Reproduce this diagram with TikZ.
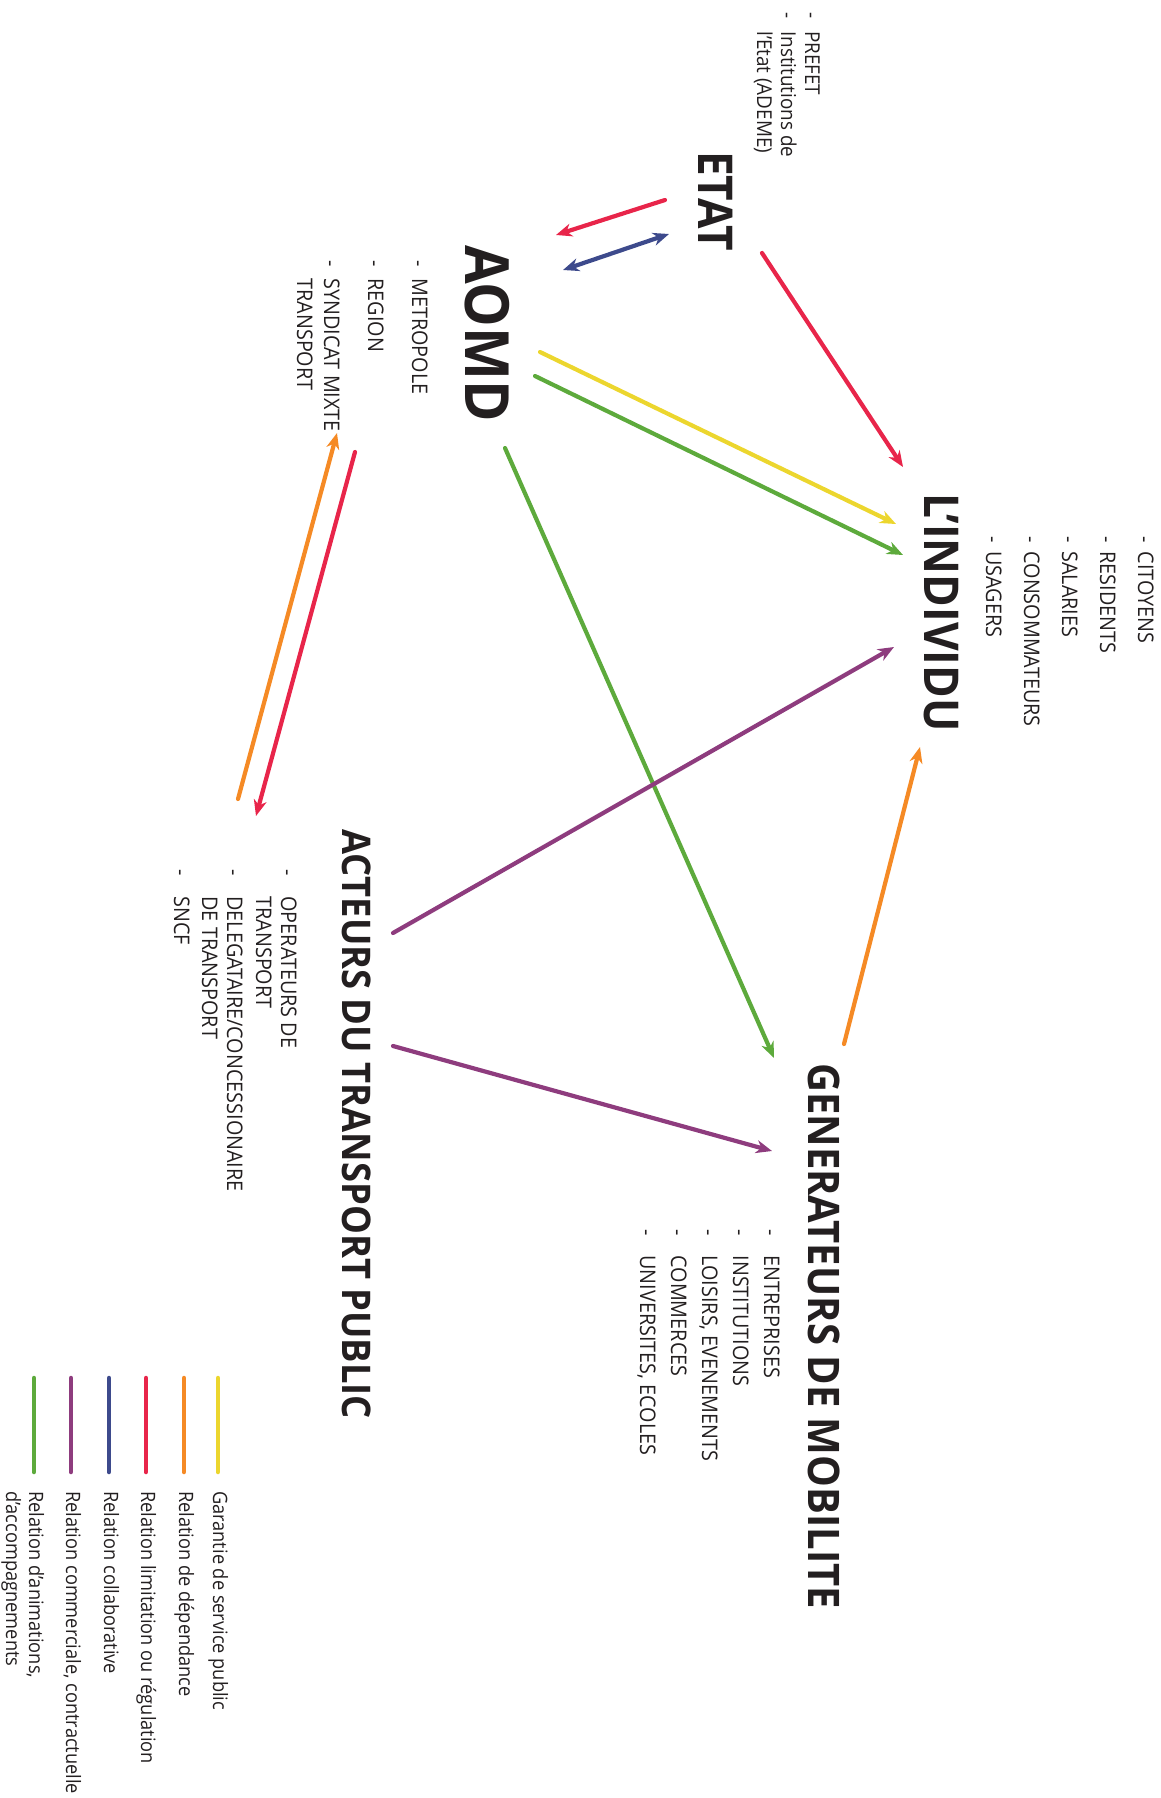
\documentclass[tikz,border=0pt]{standalone}
\usepackage{fontspec}
\setmainfont{Open Sans}[FakeStretch=0.92]
\usepackage{xcolor}
\usepackage{tikz}
\usetikzlibrary{arrows.meta,calc}
\definecolor{encre}{HTML}{231F20}
\definecolor{jauneG}{HTML}{ECD62E}
\definecolor{orangeD}{HTML}{F58A25}
\definecolor{rougeL}{HTML}{E8254A}
\definecolor{bleuC}{HTML}{3D4A8C}
\definecolor{violetC}{HTML}{8E3C7E}
\definecolor{vertA}{HTML}{5DAA3C}
\tikzset{
    >={Stealth[length=16pt,width=13pt,inset=5pt]},
    titre/.style={
        rotate=-90,
        anchor=base west,
        inner sep=0pt,
        text=encre
    },
    liste/.style={
        rotate=-90,
        anchor=base west,
        inner sep=0pt,
        text=encre
    },
    legende/.style={
        rotate=-90,
        anchor=base west,
        inner sep=0pt,
        text=encre,
        font={\fontsize{19.8}{23}\selectfont}
    },
    relation/.style={line width=4.2pt, line cap=round, ->},
    garantie/.style={relation, draw=jauneG},
    dependance/.style={relation, draw=orangeD},
    limitation/.style={relation, draw=rougeL},
    collaborative/.style={relation, draw=bleuC, <->},
    commerciale/.style={relation, draw=violetC},
    animation/.style={relation, draw=vertA},
    echantillon/.style={line width=4.5pt, line cap=round},
}
\begin{document}
\begin{tikzpicture}[x=1pt, y=-1pt]
\useasboundingbox (0,0) rectangle (1160,1798);

% les acteurs
\node[titre, font=\fontsize{48}{52}\selectfont\bfseries] (etat) at (698,151) {ETAT};
\node[liste, font=\fontsize{20.5}{24}\selectfont] (etat-liste) at (805,12)
    {\begin{tabular}[t]{@{}l@{\hspace{13pt}}l@{}}
    - & PREFET\\
    - & Institutions de\\
      & l’Etat (ADEME)
    \end{tabular}};

\node[titre, font=\fontsize{61}{66}\selectfont\bfseries] (aomd) at (465,245) {AOMD};
\node[liste, font=\fontsize{21.5}{27}\selectfont] (aomd-liste) at (412,260)
    {\begin{tabular}[t]{@{}l@{\hspace{12pt}}l@{}}
    - & METROPOLE\\[17pt]
    - & REGION\\[17pt]
    - & SYNDICAT MIXTE\\
      & TRANSPORT
    \end{tabular}};

\node[titre, font=\fontsize{48}{53}\selectfont\bfseries] (individu) at (924,493) {L’INDIVIDU};
\node[liste, font=\fontsize{21.5}{38}\selectfont] (individu-liste) at (1138,536)
    {\begin{tabular}[t]{@{}l@{\hspace{9pt}}l@{}}
    - & CITOYENS\\
    - & RESIDENTS\\
    - & SALARIES\\
    - & CONSOMMATEURS\\
    - & USAGERS
    \end{tabular}};

\node[titre, font=\fontsize{39.5}{44}\selectfont\bfseries] (acteurs) at (342,829) {ACTEURS DU TRANSPORT PUBLIC};
\node[liste, font=\fontsize{21.5}{25}\selectfont] (acteurs-liste) at (281,869)
    {\begin{tabular}[t]{@{}l@{\hspace{21pt}}l@{}}
    - & OPERATEURS DE\\
      & TRANSPORT\\[4pt]
    - & DELEGATAIRE/CONCESSIONAIRE\\
      & DE TRANSPORT\\[3pt]
    - & SNCF
    \end{tabular}};

\node[titre, font=\fontsize{43.5}{48}\selectfont\bfseries] (generateurs) at (808,1063) {GENERATEURS DE MOBILITE};
\node[liste, font=\fontsize{21.5}{31}\selectfont] (generateurs-liste) at (764,1229)
    {\begin{tabular}[t]{@{}l@{\hspace{20pt}}l@{}}
    - & ENTREPRISES\\
    - & INSTITUTIONS\\
    - & LOISIRS, EVENEMENTS\\
    - & COMMERCES\\
    - & UNIVERSITES, ECOLES
    \end{tabular}};

% les relations
\draw[limitation] ([shift={(-33,49)}]etat.base west) -- ([shift={(91,-10)}]aomd.base west);
\draw[collaborative] ([shift={(98,25)}]aomd.base west) -- ([shift={(-29,83)}]etat.base west);
\draw[limitation] ([shift={(64,102)}]etat.base west) -- ([shift={(-21,-26)}]individu.base west);
\draw[garantie] ([shift={(75,107)}]aomd.base west) -- ([shift={(-28,31)}]individu.base west);
\draw[animation] ([shift={(70,131)}]aomd.base west) -- ([shift={(-21,62)}]individu.base west);
\draw[animation] ([shift={(40,203)}]aomd.base west) -- ([shift={(-34,-5)}]generateurs.base west);
\draw[dependance] ([shift={(-104,-30)}]acteurs.base west) -- ([shift={(-75,173)}]aomd-liste.base west);
\draw[limitation] ([shift={(-57,192)}]aomd-liste.base west) -- ([shift={(-86,-13)}]acteurs.base west);
\draw[commerciale] ([shift={(51,104)}]acteurs.base west) -- ([shift={(-30,154)}]individu.base west);
\draw[commerciale] ([shift={(51,217)}]acteurs.base west) -- ([shift={(-36,88)}]generateurs.base west);
\draw[dependance] ([shift={(36,-19)}]generateurs.base west) -- ([shift={(-4,254)}]individu.base west);

% legende
\node[legende] (leg-garantie) at (213,1491) {Garantie de service public};
\node[legende] (leg-dependance) at (179,1491) {Relation de dépendance};
\node[legende] (leg-limitation) at (141,1491) {Relation limitation ou régulation};
\node[legende] (leg-collaborative) at (104,1491) {Relation collaborative};
\node[legende] (leg-commerciale) at (66,1491) {Relation commerciale, contractuelle};
\node[legende] (leg-animation) at (29,1491)
    {\begin{tabular}[t]{@{}l@{}}Relation d’animations,\\ d’accompagnements\end{tabular}};
\draw[echantillon, jauneG] ([shift={(5,-113)}]leg-garantie.base west) -- ++(0,94);
\draw[echantillon, orangeD] ([shift={(5,-113)}]leg-dependance.base west) -- ++(0,94);
\draw[echantillon, rougeL] ([shift={(5,-113)}]leg-limitation.base west) -- ++(0,94);
\draw[echantillon, bleuC] ([shift={(5,-113)}]leg-collaborative.base west) -- ++(0,94);
\draw[echantillon, violetC] ([shift={(5,-113)}]leg-commerciale.base west) -- ++(0,94);
\draw[echantillon, vertA] ([shift={(5,-113)}]leg-animation.base west) -- ++(0,94);
\end{tikzpicture}
\end{document}
